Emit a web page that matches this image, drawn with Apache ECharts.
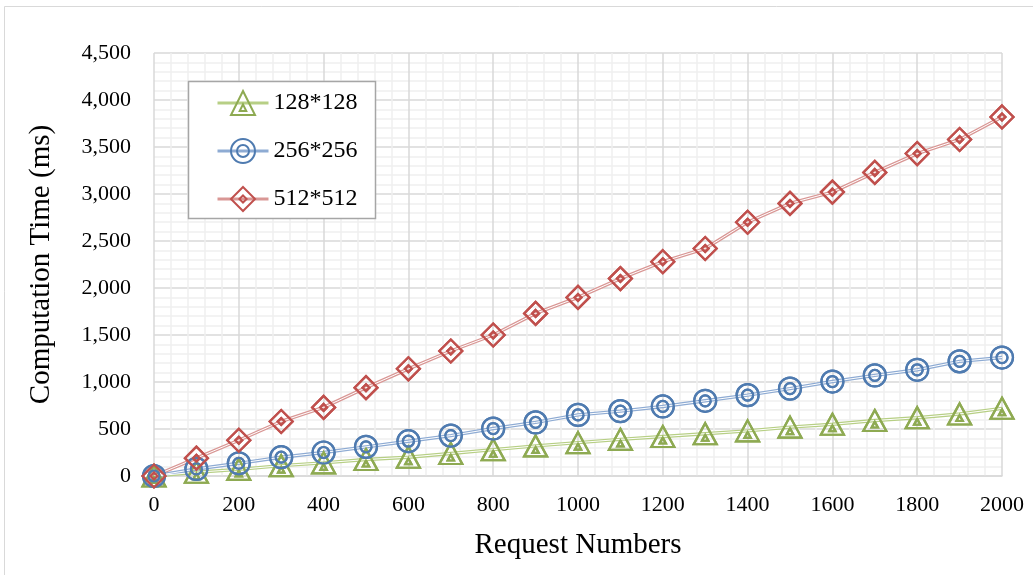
<!DOCTYPE html>
<html>
<head>
<meta charset="utf-8">
<script src="https://cdn.jsdelivr.net/npm/echarts@6/dist/echarts.min.js"></script>
<style>html,body{margin:0;padding:0;background:#fff;}#c{width:1033px;height:575px;}</style>
</head>
<body>
<div id="c"></div>
<script>
var requestNumbers = [0,100,200,300,400,500,600,700,800,900,1000,1100,1200,1300,1400,1500,1600,1700,1800,1900,2000];
var s128 = [0,40,70,110,140,175,200,240,280,320,355,390,420,450,480,520,550,590,620,660,720];
var s256 = [0,75,135,200,250,310,370,430,505,570,650,690,740,800,860,930,1005,1070,1130,1220,1260];
var s512 = [0,190,380,580,730,940,1140,1330,1500,1730,1900,2100,2280,2420,2700,2900,3020,3230,3430,3580,3820];
var seriesNames = ['128*128','256*256','512*512'];
var yTicks = [0,500,1000,1500,2000,2500,3000,3500,4000,4500];

var FONT = 'Liberation Serif';
function pairs(vals){ return vals.map(function(v,i){ return [requestNumbers[i], v]; }); }

var symTri = 'path://M10,1 L19.5,19 L0.5,19 Z M10,11 L12.6,16 L7.4,16 Z';
var symCir = 'path://M1,10 A9,9 0 1,0 19,10 A9,9 0 1,0 1,10 Z M5.5,10 A4.5,4.5 0 1,0 14.5,10 A4.5,4.5 0 1,0 5.5,10 Z';
var symDia = 'path://M10,0 L20,10 L10,20 L0,10 Z M10,7 L13,10 L10,13 L7,10 Z';

var groups = [
  {name: seriesNames[0], data: s128, line: '#b7cf85', mark: '#8eaa52', sym: symTri, size: [23,21]},
  {name: seriesNames[1], data: s256, line: '#8eabd3', mark: '#4f7bb0', sym: symCir, size: [22,22]},
  {name: seriesNames[2], data: s512, line: '#d99795', mark: '#c0504d', sym: symDia, size: [23,23]}
];

var series = [];
groups.forEach(function(g, idx){
  series.push({
    name: g.name, type: 'line', data: pairs(g.data), z: 2,
    symbol: g.sym, symbolSize: g.size, showSymbol: true,
    lineStyle: {color: g.line, width: 3.4},
    itemStyle: {color: 'rgba(255,255,255,0)', borderColor: g.mark, borderWidth: 2.2},
    emphasis: {disabled: true}, animation: false
  });
  series.push({
    name: '_w' + idx, type: 'line', data: pairs(g.data), z: 3, silent: true,
    symbol: 'none', lineStyle: {color: '#ffffff', width: 1},
    emphasis: {disabled: true}, animation: false
  });
  series.push({
    name: '_m' + idx, type: 'line', data: pairs(g.data), z: 4, silent: true,
    symbol: g.sym, symbolSize: g.size, showSymbol: true,
    lineStyle: {opacity: 0, width: 0},
    itemStyle: {color: 'rgba(255,255,255,0)', borderColor: g.mark, borderWidth: 2.2},
    emphasis: {disabled: true}, animation: false
  });
});

var chart = echarts.init(document.getElementById('c'), null, {renderer: 'canvas'});
chart.setOption({
  animation: false,
  backgroundColor: '#ffffff',
  textStyle: {fontFamily: FONT},
  graphic: [
    {type: 'rect', z: 0, shape: {x: 4.5, y: 6.5, width: 1100, height: 700}, style: {fill: 'none', stroke: '#d9d9d9', lineWidth: 1}, silent: true},
    {type: 'rect', z: 10, shape: {x: 188.5, y: 81.5, width: 187, height: 137}, style: {fill: '#ffffff', stroke: '#a6a6a6', lineWidth: 1.5}, silent: true}
  ],
  grid: {left: 154, right: 31, top: 53, bottom: 99, containLabel: false},
  legend: {
    data: seriesNames, orient: 'vertical', left: 216, top: 90, z: 11, padding: 0,
    itemWidth: 51, itemHeight: 30, itemGap: 22,
    lineStyle: {width: 3},
    textStyle: {fontFamily: FONT, fontSize: 24, color: '#000'},
    selectedMode: false
  },
  xAxis: {
    type: 'value', min: 0, max: 2000, interval: 200,
    name: 'Request Numbers', nameLocation: 'middle', nameGap: 55,
    nameTextStyle: {fontFamily: FONT, fontSize: 29, color: '#000'},
    axisLine: {show: true, lineStyle: {color: '#d9d9d9', width: 1.5}},
    axisTick: {show: false},
    axisLabel: {fontFamily: FONT, fontSize: 22, color: '#000', margin: 18,
      formatter: function(v){ return String(v); }},
    splitLine: {show: true, lineStyle: {color: '#d9d9d9', width: 1.5}},
    minorTick: {show: false, splitNumber: 5},
    minorSplitLine: {show: true, lineStyle: {color: '#f0f0f0', width: 1.5}}
  },
  yAxis: {
    type: 'value', min: yTicks[0], max: yTicks[yTicks.length-1], interval: 500,
    name: 'Computation Time (ms)', nameLocation: 'middle', nameGap: 98,
    nameTextStyle: {fontFamily: FONT, fontSize: 29, color: '#000'},
    axisLine: {show: false},
    axisTick: {show: false},
    axisLabel: {fontFamily: FONT, fontSize: 22, color: '#000', margin: 23,
      formatter: function(v){ return v.toLocaleString('en-US'); }},
    splitLine: {show: true, lineStyle: {color: '#d9d9d9', width: 1.5}},
    minorTick: {show: false, splitNumber: 5},
    minorSplitLine: {show: true, lineStyle: {color: '#f0f0f0', width: 1.5}}
  },
  series: series
});
</script>
</body>
</html>
